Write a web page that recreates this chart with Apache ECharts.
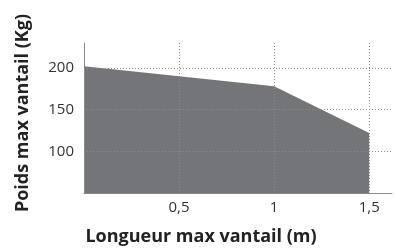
<!DOCTYPE html>
<html>
<head>
<meta charset="utf-8">
<script src="https://cdn.jsdelivr.net/npm/echarts@6/dist/echarts.min.js"></script>
<style>
  html, body { margin: 0; padding: 0; background: #fff; }
  #chart { width: 395px; height: 248px; }
</style>
</head>
<body>
<div id="chart"></div>
<script>
/* longueur (m) -> poids max (kg) */
const lengths = [0, 1, 1.5];
const weights = [202, 178, 122];
const yLabels = [100, 150, 200];
const xLabels = [0.5, 1, 1.5];

const FONT = "'Open Sans', 'DejaVu Sans', sans-serif";
const gridDots = { color: "#8c8c8c", type: [1, 2], width: 1 };

const chart = echarts.init(document.getElementById("chart"), null, { renderer: "canvas" });

chart.setOption({
  animation: false,
  backgroundColor: "#fff",
  grid: { left: 84, right: 0, top: 43, bottom: 55 },
  xAxis: {
    type: "value",
    min: 0,
    max: 1.62,
    interval: 0.5,
    z: 3,
    axisLine: { lineStyle: { color: "#8a8a8a", width: 1 } },
    axisTick: { show: false },
    axisLabel: {
      color: "#333",
      fontFamily: FONT,
      fontSize: 15,
      margin: 7,
      formatter: function (v) {
        return xLabels.indexOf(v) >= 0 ? String(v).replace(".", ",") : "";
      },
    },
    splitLine: { show: true, showMinLine: false, showMaxLine: false, lineStyle: gridDots },
  },
  yAxis: {
    type: "value",
    min: 50,
    max: 230,
    interval: 50,
    z: 3,
    axisLine: { show: true, lineStyle: { color: "#8a8a8a", width: 1 } },
    axisTick: { show: false },
    axisLabel: {
      color: "#333",
      fontFamily: FONT,
      fontSize: 15,
      margin: 10,
      formatter: function (v) {
        return yLabels.indexOf(v) >= 0 ? String(v) : "";
      },
    },
    splitLine: { show: true, showMinLine: false, showMaxLine: false, lineStyle: gridDots },
  },
  graphic: [
    {
      type: "text",
      x: 201,
      y: 237,
      style: {
        text: "Longueur max vantail (m)",
        font: "bold 18px " + FONT,
        fill: "#222",
        align: "center",
        verticalAlign: "middle",
      },
    },
    {
      type: "text",
      x: 23,
      y: 113,
      rotation: Math.PI / 2,
      style: {
        text: "Poids max vantail (Kg)",
        font: "bold 18px " + FONT,
        fill: "#222",
        align: "center",
        verticalAlign: "middle",
      },
    },
  ],
  series: [
    {
      type: "line",
      z: 1,
      data: lengths.map(function (x, i) { return [x, weights[i]]; }),
      symbol: "none",
      lineStyle: { width: 0 },
      areaStyle: { color: "#747578", opacity: 1, origin: "start" },
    },
  ],
});
</script>
</body>
</html>
